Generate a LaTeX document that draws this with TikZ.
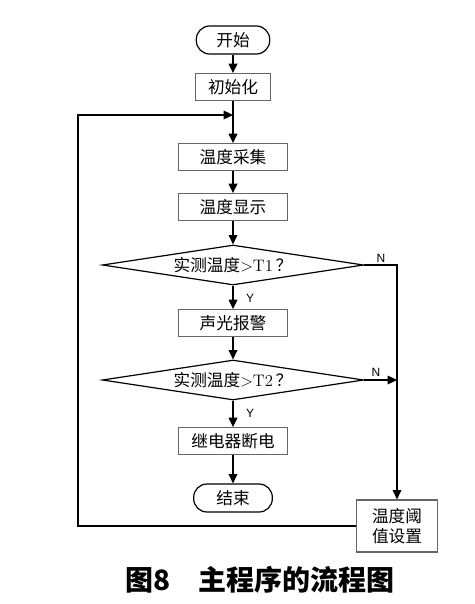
\documentclass[tikz,border=0pt]{standalone}
\usepackage{fontspec}
\usetikzlibrary{shapes.geometric,arrows.meta}
\newfontfamily\cjk{Noto Sans CJK SC}
\newfontfamily\yn{Liberation Sans}

\begin{document}
\begin{tikzpicture}
[x=0.75pt,y=-0.75pt,line width=0.9pt,
 every node/.style={draw=black!60,font=\cjk\fontsize{12.5}{15}\selectfont},
 proc/.style={rectangle,minimum width=82pt,minimum height=20pt},
 term/.style={rectangle,rounded corners=10pt,draw=black,minimum height=21pt},
 test/.style={diamond,aspect=6.5,inner sep=0pt,draw=black,minimum width=196pt,minimum height=30pt},
 lbl/.style={draw=none,font=\yn\fontsize{9}{10}\selectfont},
 arr/.style={-{Triangle[length=7pt,width=6.5pt]}}]
\useasboundingbox (0,0) rectangle (475,604);
\node[term,minimum width=55pt] (start) at (233,40) {开始};
\node[proc,minimum width=56pt] (init) at (233,87) {初始化};
\node[proc] (collect) at (233,157) {温度采集};
\node[proc] (show) at (233,207) {温度显示};
\node[test] (test1) at (233,265) {实测温度{\rmfamily >T1\,}？};
\node[proc] (alarm) at (233,323) {声光报警};
\node[test] (test2) at (233,380) {实测温度{\rmfamily >T2\,}？};
\node[proc] (relay) at (233,441) {继电器断电};
\node[term,minimum width=59pt] (stop) at (233,498) {结束};
\node[proc,minimum width=61pt,minimum height=39pt,align=center] (set) at (397,526) {温度阈\\值设置};
\coordinate (join) at (233,115);
\coordinate (left) at (78,115);
\coordinate (merge) at (397,380);
\foreach \from/\to in {start/init,init/collect,collect/show,show/test1,test1/alarm,alarm/test2,test2/relay,relay/stop}
\draw[arr] (\from) -- (\to);
\draw[arr] (test1.east) -| (set.north);
\draw[arr] (test2.east) -- (merge);
\draw[arr] (set.west) -| (left) -- (join);
\node[lbl] (y1) at (250,298) {Y};
\node[lbl] (y2) at (250,413) {Y};
\node[lbl] (n1) at (381,258) {N};
\node[lbl] (n2) at (376,372) {N};
\node[draw=none,font=\cjk\bfseries\fontsize{21}{24}\selectfont] (title) at (260,580) {图8\hspace{1em}主程序的流程图};
\end{tikzpicture}
\end{document}
